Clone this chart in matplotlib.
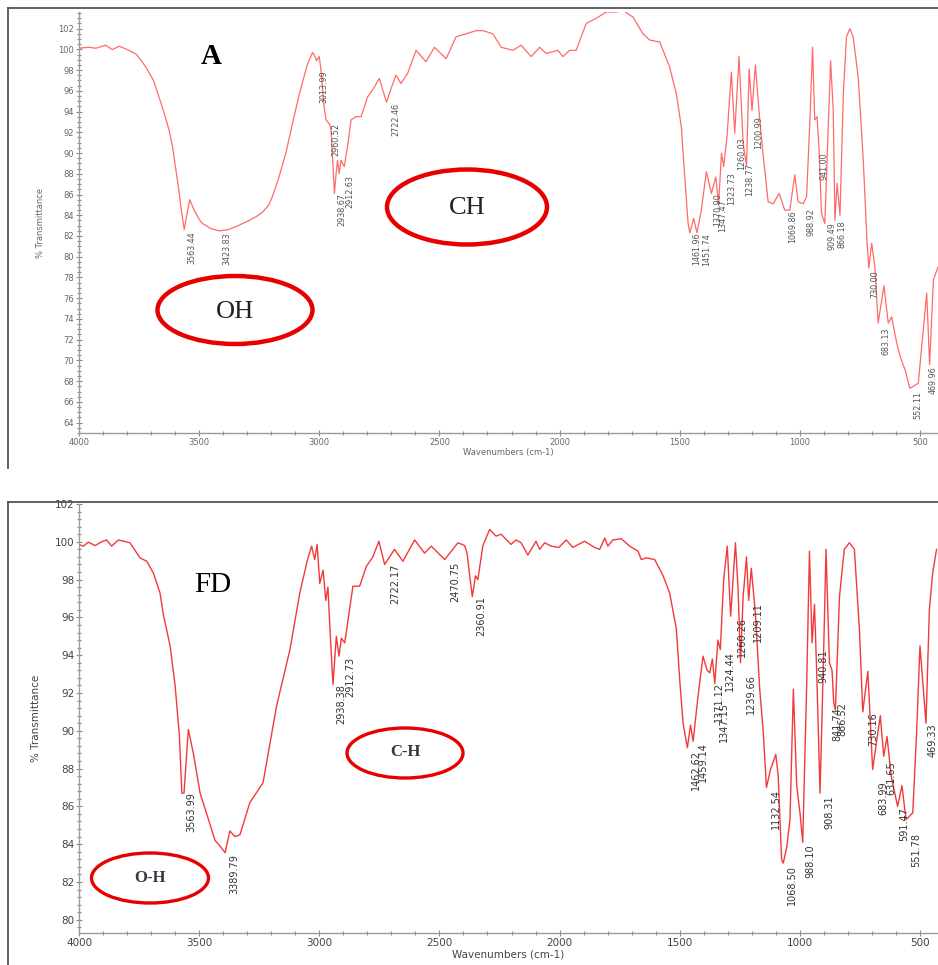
"""FTIR spectra of sample A and FD (% transmittance vs wavenumber)."""

import matplotlib

matplotlib.use("Agg")
import matplotlib.pyplot as plt
from matplotlib.lines import Line2D
from matplotlib.patches import Ellipse
from matplotlib.ticker import MultipleLocator

# ---- spectrum A (top) ----
wn_a = [4000, 3960, 3930, 3889, 3862, 3833, 3792, 3760, 3722, 3690, 3667, 3645, 3625, 3610,
        3597, 3585, 3576, 3562, 3550, 3539, 3530, 3521, 3500, 3486, 3450, 3417, 3380, 3347,
        3300, 3260, 3236, 3210, 3195, 3170, 3139, 3110, 3083, 3050, 3028, 3018, 3011, 3000,
        2993, 2980, 2972, 2958, 2951, 2944, 2937, 2930, 2924, 2917, 2910, 2896, 2880, 2868,
        2847, 2826, 2799, 2775, 2750, 2735, 2720, 2700, 2681, 2660, 2632, 2597, 2556, 2521,
        2472, 2431, 2389, 2347, 2319, 2278, 2243, 2194, 2160, 2118, 2083, 2056, 2007, 1986,
        1958, 1931, 1889, 1847, 1806, 1764, 1736, 1694, 1653, 1625, 1583, 1542, 1514, 1493,
        1479, 1465, 1458, 1442, 1428, 1410, 1389, 1368, 1350, 1338, 1326, 1317, 1303, 1285,
        1271, 1253, 1236, 1222, 1211, 1199, 1185, 1167, 1150, 1132, 1111, 1086, 1063, 1042,
        1021, 1007, 986, 972, 958, 947, 938, 928, 920, 910, 896, 882, 872, 861, 854, 845,
        833, 819, 806, 792, 778, 757, 736, 720, 713, 701, 688, 674, 650, 632, 618, 597, 580,
        562, 542, 507, 490, 472, 460, 444, 425]
t_a = [100.1, 100.2, 100.1, 100.4, 99.97, 100.3, 99.9, 99.5, 98.3, 97.0, 95.4, 93.8, 92.2, 90.5,
       88.4, 86.5, 84.8, 82.6, 84.2, 85.5, 85.0, 84.5, 83.6, 83.2, 82.7, 82.5, 82.6, 82.9,
       83.4, 83.9, 84.3, 85.0, 85.8, 87.5, 90.0, 93.0, 95.7, 98.5, 99.7, 99.3, 98.9, 99.3,
       98.0, 94.5, 93.2, 92.8, 92.2, 89.3, 86.1, 88.0, 89.3, 88.0, 89.3, 88.7, 91.0, 93.2,
       93.5, 93.5, 95.4, 96.2, 97.2, 96.0, 94.9, 96.3, 97.5, 96.7, 97.7, 99.9, 98.8, 100.2,
       99.1, 101.2, 101.5, 101.8, 101.8, 101.5, 100.2, 99.9, 100.4, 99.3, 100.2, 99.6, 99.9, 99.3,
       99.9, 99.9, 102.5, 103.0, 103.6, 103.6, 103.75, 103.1, 101.5, 100.9, 100.7, 98.3, 95.7, 92.5,
       87.7, 83.2, 82.3, 83.7, 82.3, 84.5, 88.2, 86.1, 87.7, 85.1, 90.0, 88.7, 91.6, 97.8,
       91.9, 99.3, 90.9, 88.8, 98.1, 94.1, 98.5, 93.2, 89.2, 85.3, 85.1, 86.1, 84.5, 84.5,
       87.9, 85.3, 85.1, 85.8, 93.2, 100.2, 93.2, 93.5, 90.3, 84.2, 83.2, 92.5, 98.9, 94.1, 83.5, 87.1,
       84.0, 95.7, 101.2, 102.0, 101.2, 97.3, 89.3, 81.3, 78.9, 81.3, 79.0, 73.6, 77.2, 73.6, 74.2, 71.7, 70.2,
       69.1, 67.3, 67.8, 72.0, 76.5, 69.6, 77.8, 79.0]

labels_a = ["3563.44", "3423.83", "3013.99", "2960.52", "2938.67", "2912.63", "2722.46",
            "1461.96", "1451.74", "1370.90", "1347.47", "1323.73", "1260.03", "1238.77",
            "1200.99", "1069.86", "988.92", "941.00", "909.49", "866.18", "730.00", "683.13",
            "552.11", "469.96"]
lab_wn_a = [3529, 3383, 2979, 2929, 2904, 2871, 2683, 1429, 1387, 1342, 1321, 1283, 1242, 1208,
            1171, 1029, 954, 900, 867, 825, 687, 642, 508, 447]
lab_t_a = [82.4, 82.3, 98.0, 92.9, 86.1, 87.9, 94.8, 82.3, 82.3, 86.1, 85.5, 88.1, 91.5, 89.0,
           93.6, 84.5, 84.7, 90.1, 83.3, 83.5, 78.7, 73.2, 67.0, 69.4]

# ---- spectrum FD (bottom) ----
wn_fd = [4000, 3982, 3961, 3933, 3906, 3885, 3864, 3836, 3788, 3746, 3718, 3691, 3663, 3649,
         3621, 3600, 3582, 3572, 3563, 3545, 3524, 3496, 3461, 3434, 3413, 3392, 3372, 3351,
         3330, 3289, 3234, 3178, 3122, 3081, 3050, 3032, 3019, 3009, 2998, 2984, 2973, 2964,
         2954, 2943, 2929, 2918, 2908, 2894, 2860, 2832, 2804, 2777, 2752, 2728, 2687, 2652,
         2603, 2562, 2534, 2478, 2423, 2395, 2385, 2375, 2363, 2350, 2340, 2319, 2291, 2264,
         2243, 2202, 2181, 2160, 2132, 2098, 2083, 2062, 2035, 2003, 1972, 1945, 1896, 1854,
         1833, 1812, 1799, 1778, 1743, 1708, 1673, 1660, 1639, 1604, 1569, 1542, 1514, 1500,
         1486, 1468, 1455, 1444, 1424, 1403, 1386, 1375, 1364, 1354, 1341, 1331, 1317, 1302,
         1288, 1268, 1257, 1247, 1236, 1222, 1213, 1202, 1184, 1167, 1153, 1139, 1122, 1100,
         1090, 1076, 1069, 1055, 1041, 1027, 1013, 999, 988, 972, 960, 949, 939, 930, 916,
         902, 891, 877, 866, 859, 852, 835, 815, 794, 773, 752, 738, 717, 697, 680, 665, 651,
         637, 620, 593, 575, 558, 530, 514, 500, 486, 475, 461, 447, 431]
t_fd = [99.86, 99.77, 99.98, 99.8, 100.0, 100.1, 99.77, 100.1, 99.95, 99.15, 98.97, 98.36, 97.3, 96.15,
        94.5, 92.4, 89.7, 86.7, 86.7, 90.07, 88.8, 86.7, 85.3, 84.2, 83.9, 83.55, 84.7, 84.4,
        84.5, 86.2, 87.25, 91.3, 94.3, 97.3, 99.0, 99.77, 99.06, 99.86, 97.8, 98.5, 96.9, 97.6,
        95.0, 92.45, 95.0, 93.95, 94.9, 94.65, 97.65, 97.65, 98.7, 99.2, 100.03, 98.8, 99.6, 98.97,
        100.1, 99.4, 99.77, 99.06, 99.95, 99.8, 99.4, 98.3, 97.1, 98.2, 98.0, 99.8, 100.65, 100.3,
        100.4, 99.86, 100.1, 99.95, 99.3, 100.03, 99.6, 99.95, 99.77, 99.7, 100.1, 99.7, 100.03, 99.7,
        99.6, 100.2, 99.77, 100.1, 100.16, 99.77, 99.5, 99.06, 99.15, 99.06, 98.2, 97.3, 95.4, 92.7,
        90.4, 89.1, 90.3, 89.45, 91.8, 93.95, 93.2, 93.07, 93.8, 92.5, 94.8, 94.3, 98.0, 99.77,
        96.06, 99.95, 97.5, 93.6, 97.1, 99.2, 96.9, 98.6, 96.06, 92.2, 90.07, 87.0, 87.95, 88.75,
        87.6, 83.2, 83.0, 83.8, 85.3, 92.2, 87.1, 85.6, 84.1, 92.2, 99.5, 94.65, 96.7, 93.2, 86.7,
        93.6, 99.6, 93.6, 93.2, 91.5, 91.1, 97.1, 99.6, 99.95, 99.6, 95.36, 91.0, 93.15, 87.95, 89.5, 90.8, 88.65,
        89.7, 87.6, 86.0, 87.1, 85.3, 85.66, 89.9, 94.5, 92.2, 90.4, 96.4, 98.36, 99.6]

labels_fd = ["3563.99", "3389.79", "2938.38", "2912.73", "2722.17", "2470.75", "2360.91",
             "1462.62", "1459.14", "1371.12", "1347.15", "1324.44", "1260.26", "1239.66",
             "1209.11", "1132.54", "1068.50", "988.10", "940.81", "908.31", "866.52", "841.74",
             "730.16", "683.99", "631.65", "591.47", "551.78", "469.33"]
lab_wn_fd = [3533, 3354, 2908, 2871, 2683, 2433, 2325, 1433, 1404, 1337, 1317, 1292, 1242, 1204,
             1175, 1100, 1033, 958, 900, 875, 825, 842, 696, 654, 617, 567, 517, 447]
lab_t_fd = [86.74, 83.46, 92.45, 93.93, 98.82, 98.96, 97.1, 89.0, 89.4, 92.6, 91.5, 94.2, 96.0, 93.0,
            96.8, 86.9, 82.9, 84.0, 94.3, 86.6, 91.5, 91.25, 91.0, 87.3, 88.4, 85.95, 84.6, 90.4]

W, H = 938, 965
fig = plt.figure(figsize=(W / 100, H / 100), dpi=100)


def style_axes(ax, ylim, yminor, fs, tick_col):
    ax.set_xlim(4000, 425)
    ax.set_ylim(*ylim)
    for s in ("top", "right"):
        ax.spines[s].set_visible(False)
    for s in ("left", "bottom"):
        ax.spines[s].set_color("#9a9a9a")
        ax.spines[s].set_linewidth(1.0)
    ax.xaxis.set_major_locator(MultipleLocator(500))
    ax.xaxis.set_minor_locator(MultipleLocator(100))
    ax.yaxis.set_major_locator(MultipleLocator(2))
    ax.yaxis.set_minor_locator(MultipleLocator(yminor))
    ax.tick_params(which="both", direction="inout", colors="#8a8a8a", labelcolor=tick_col,
                   labelsize=fs, width=0.8)
    ax.tick_params(which="major", length=5, pad=1)
    ax.tick_params(which="minor", length=2.5)
    ax.set_xlabel("Wavenumbers (cm-1)", fontsize=fs, color=tick_col, labelpad=1)
    ax.set_ylabel("% Transmittance", fontsize=fs, color=tick_col, labelpad=10)


def frame(y0, y1):
    kw = dict(color="#555555", lw=1.3, transform=fig.transFigure)
    fig.add_artist(Line2D([8 / W, 1], [1 - y0 / H, 1 - y0 / H], **kw))
    fig.add_artist(Line2D([8 / W, 8 / W], [1 - y0 / H, 1 - y1 / H], **kw))


def oval(cx, cy, w, h, lw):
    fig.add_artist(Ellipse((cx / W, 1 - cy / H), w / W, h / H, fill=False,
                           edgecolor="#e80000", lw=lw, transform=fig.transFigure))


serif = ["Liberation Serif", "DejaVu Serif"]

# top panel
frame(8, 468)
ax1 = fig.add_axes([79 / W, 1 - 433 / H, 1 - 79 / W, 421 / H])
ax1.plot(wn_a, t_a, color="#ff6a6a", lw=0.9)
style_axes(ax1, (63.0, 103.6), 0.5, 6, "#666666")
for s, x, y in zip(labels_a, lab_wn_a, lab_t_a):
    ax1.text(x, y, s, rotation=90, ha="center", va="top", fontsize=5.8, color="#555555")
ax1.text(211 / W, 1 - 57 / H, "A", transform=fig.transFigure, ha="center", va="center",
         fontsize=21, fontweight="bold", family=serif)
oval(235, 310, 155, 68, 3.2)
fig.text(235 / W, 1 - 312 / H, "OH", ha="center", va="center", fontsize=19, family=serif,
         color="#222222")
oval(467, 207, 160, 75, 3.2)
fig.text(467 / W, 1 - 208 / H, "CH", ha="center", va="center", fontsize=19, family=serif,
         color="#222222")

# bottom panel
frame(502, 965)
ax2 = fig.add_axes([79 / W, 1 - 933 / H, 1 - 79 / W, 429 / H])
ax2.plot(wn_fd, t_fd, color="#f23a3a", lw=1.0)
style_axes(ax2, (79.3, 102.0), 0.4, 7.5, "#444444")
for s, x, y in zip(labels_fd, lab_wn_fd, lab_t_fd):
    ax2.text(x, y, s, rotation=90, ha="center", va="top", fontsize=7, color="#333333")
fig.text(213 / W, 1 - 585 / H, "FD", ha="center", va="center", fontsize=21, family=serif)
oval(405, 753, 116, 50, 2.4)
fig.text(405 / W, 1 - 752 / H, "C-H", ha="center", va="center", fontsize=12,
         fontweight="bold", family=serif, color="#333a44")
oval(150, 878, 117, 50, 2.4)
fig.text(150 / W, 1 - 878 / H, "O-H", ha="center", va="center", fontsize=12,
         fontweight="bold", family=serif, color="#333a44")

fig.savefig("out.png", dpi=100)
